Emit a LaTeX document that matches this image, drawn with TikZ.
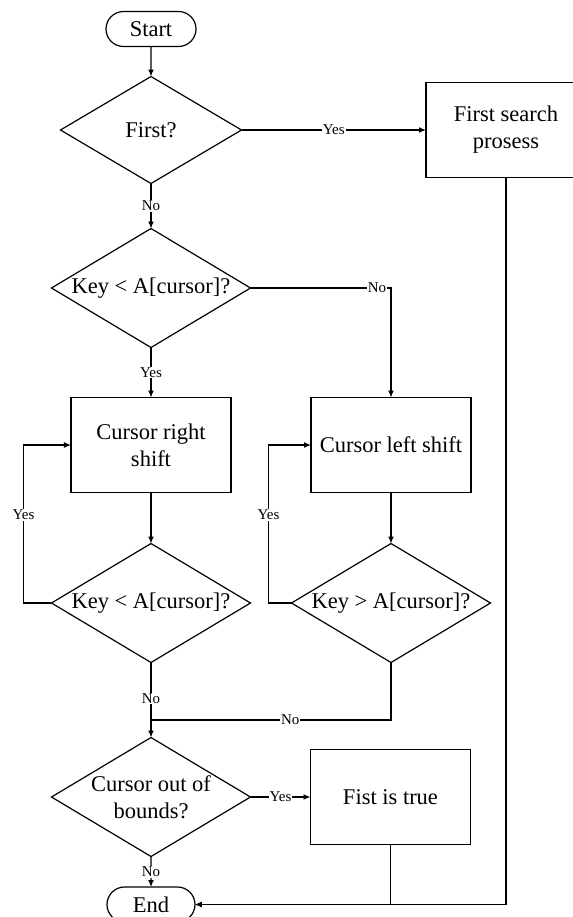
\documentclass[tikz,border=0pt]{standalone}
\usepackage{fontspec}
\setmainfont{Liberation Serif}
\usetikzlibrary{arrows.meta,positioning,shapes.geometric,shapes.misc}

\begin{document}
\begin{tikzpicture}[
		font=\fontsize{11.25}{13.5}\selectfont,
		line width=0.6pt,
		every node/.style={outer sep=0pt},
		terminal/.style={draw, rounded rectangle, minimum width=45pt, minimum height=17.5pt, inner sep=0pt},
		process/.style={draw, align=center, minimum width=80pt, minimum height=47.5pt},
		decision/.style={draw, diamond, inner sep=0pt, minimum width=99.5pt, minimum height=59.5pt},
		flow/.style={-{Latex[length=3.5pt, width=3pt]}},
		cond/.style={fill=white, inner sep=0.5pt, font=\fontsize{7.5}{9}\selectfont},
	]
		\node (start) [terminal] {Start};
		\useasboundingbox ([xshift=-75.5pt, yshift=14.5pt]start.center) rectangle ([xshift=211pt, yshift=-444pt]start.center);
		\node (first) [decision, below=15pt of start, minimum width=90.5pt, minimum height=53.5pt, label={center:First?}] {};
		\node (search) [process, right=92.25pt of first] {First search\\prosess};
		\node (keya) [decision, below=22.5pt of first, label={center:{Key < A[cursor]?}}] {};
		\node (rshift) [process, below=25pt of keya] {Cursor right\\shift};
		\node (lshift) [process, right=40pt of rshift] {Cursor left shift};
		\node (keyb) [decision, below=25.5pt of rshift, label={center:{Key < A[cursor]?}}] {};
		\node (keyc) [decision, below=25.5pt of lshift, label={center:{Key > A[cursor]?}}] {};
		\node (bounds) [decision, below=37.5pt of keyb, label={[align=center]center:Cursor out of\\bounds?}] {};
		\node (fist) [process, right=30pt of bounds] {Fist is true};
		\node (end) [terminal, below=15.25pt of bounds, minimum width=44pt] {End};
		\coordinate (join) at ([yshift=-28.75pt]keyb.south);

		\draw[flow] (start) -- (first);
		\draw[flow] (first) -- node[cond]{Yes} (search);
		\draw[flow] (first) -- node[cond]{No} (keya);
		\draw[flow] (keya) -- node[cond]{Yes} (rshift);
		\draw[flow] (keya) -| node[cond, pos=0.45]{No} (lshift);
		\draw[flow] (rshift) -- (keyb);
		\draw[flow] (lshift) -- (keyc);
		\draw[flow] (keyb.west) -- ++(-14pt,0) |- node[cond, pos=0.28]{Yes} (rshift.west);
		\draw[flow] (keyc.west) -- ++(-11.5pt,0) |- node[cond, pos=0.28]{Yes} (lshift.west);
		\draw[flow] (keyb) -- node[cond, pos=0.48]{No} (bounds);
		\draw (keyc) |- node[cond, pos=0.71]{No} (join);
		\draw[flow] (bounds) -- node[cond]{Yes} (fist);
		\draw[flow] (bounds) -- node[cond]{No} (end);
		\draw[flow] (fist) |- (end);
		\draw[flow] (search) |- (end);
	\end{tikzpicture}
\end{document}
